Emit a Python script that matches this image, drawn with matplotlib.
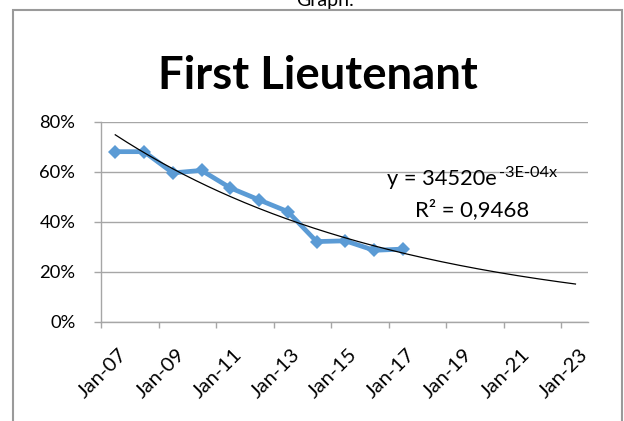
import datetime as dt

import matplotlib
matplotlib.use("Agg")
import matplotlib.dates as mdates
import matplotlib.pyplot as plt
import numpy as np
from matplotlib.patches import Rectangle
from matplotlib.ticker import FuncFormatter, MultipleLocator
from matplotlib.transforms import ScaledTranslation

# data (yearly, mid-year)
years = [2007, 2008, 2009, 2010, 2011, 2012, 2013, 2014, 2015, 2016, 2017]
rates = [0.680, 0.680, 0.595, 0.605, 0.535, 0.487, 0.440, 0.320, 0.323, 0.285, 0.290]
tick_years = [2007, 2009, 2011, 2013, 2015, 2017, 2019, 2021, 2023]
forecast_years = 6

title = "First Lieutenant"
eq_main = "y = 34520e"
eq_sup = "-3E-04x"
r2_text = "R² = 0,9468"

BLUE = "#5B9BD5"
GRID = "#a6a6a6"
FONT = "Lato"

W, H = 624, 421


def fx(px):
    return px / W


def fy(py):
    return 1 - py / H


def fit_width(txt, target_px):
    # scale a text so its drawn width matches the reference (Calibri is narrower)
    fig.canvas.draw()
    w = txt.get_window_extent().width
    txt.set_fontsize(txt.get_fontsize() * target_px / w)
    return txt.get_fontsize()


dates = [dt.date(y, 7, 1) for y in years]
xnum = mdates.date2num(dates)

# exponential trend, like Excel's
slope, icpt = np.polyfit(xnum, np.log(rates), 1)
trend_x = np.linspace(xnum[0], mdates.date2num(dt.date(years[-1] + forecast_years, 7, 1)), 200)
trend_y = np.exp(icpt + slope * trend_x)

fig = plt.figure(figsize=(W / 100, H / 100), dpi=100)
fig.patch.set_facecolor("white")

# outer chart border
fig.patches.append(
    Rectangle((fx(12.5), fy(440)), fx(609), (440 - 10) / H,
              transform=fig.transFigure, fill=False, edgecolor="#9a9a9a", linewidth=1.5)
)
fig.text(fx(325), fy(6), "Graph:", ha="center", va="baseline", fontsize=14, family=FONT)

ax = fig.add_axes([fx(101), fy(321.5), fx(587.5) - fx(101), (321.5 - 121.7) / H])

ax.plot(dates, rates, color=BLUE, linewidth=3.4, marker="D", markersize=7.5,
        markeredgewidth=0, zorder=3)
ax.plot(trend_x, trend_y, color="black", linewidth=0.9, zorder=4)

ax.set_ylim(0, 0.8)
ax.set_xlim(mdates.date2num(dt.date(2007, 1, 1)), mdates.date2num(dt.date(2023, 12, 1)))
ax.yaxis.set_major_locator(MultipleLocator(0.2))
ax.yaxis.set_major_formatter(FuncFormatter(lambda v, p: f"{v * 100:.0f}%"))
tick_pos = [mdates.date2num(dt.date(y, 1, 1)) for y in tick_years]
ax.set_xticks(tick_pos)

ax.grid(axis="y", color=GRID, linewidth=1.0)
ax.set_axisbelow(True)
for side in ["top", "right"]:
    ax.spines[side].set_visible(False)
for side in ["left", "bottom"]:
    ax.spines[side].set_color(GRID)
    ax.spines[side].set_linewidth(1.0)

ax.tick_params(axis="y", length=5, width=1.0, color=GRID, pad=13.5, labelsize=12,
               labelfontfamily=FONT)
ax.tick_params(axis="x", length=4, width=1.0, color=GRID, labelbottom=False)

# y label size: "80%" is ~36 px wide in the reference
fig.canvas.draw()
ylab = [lab for lab in ax.get_yticklabels() if lab.get_text() == "80%"][0]
ax.tick_params(axis="y", labelsize=12 * 36 / ylab.get_window_extent().width)

# rotated date labels, drawn Excel-style: upper end sits right of and below the tick
lab_trans = ax.get_xaxis_transform() + ScaledTranslation(0.175, -0.245, fig.dpi_scale_trans)
xlabels = []
for pos, y in zip(tick_pos, tick_years):
    xlabels.append(ax.text(pos, 0, f"Jan-{y % 100:02d}", transform=lab_trans, rotation=45,
                           rotation_mode="anchor", ha="right", va="top", fontsize=12,
                           family=FONT))
size = fit_width(xlabels[0], 57)
for lab in xlabels:
    lab.set_fontsize(size)

t = fig.text(fx(318), fy(89.5), title, ha="center", va="baseline", fontsize=36,
             fontweight="bold", family=FONT)
fit_width(t, 320)

# trendline equation
e1 = fig.text(fx(497), fy(185), eq_main, ha="right", va="baseline", fontsize=15, family=FONT)
fit_width(e1, 110)
e2 = fig.text(fx(499), fy(177), eq_sup, ha="left", va="baseline", fontsize=10, family=FONT)
fit_width(e2, 58)
r2 = fig.text(fx(472), fy(216.5), r2_text, ha="center", va="baseline", fontsize=15, family=FONT)
fit_width(r2, 115)

fig.savefig("out.png", dpi=100)
